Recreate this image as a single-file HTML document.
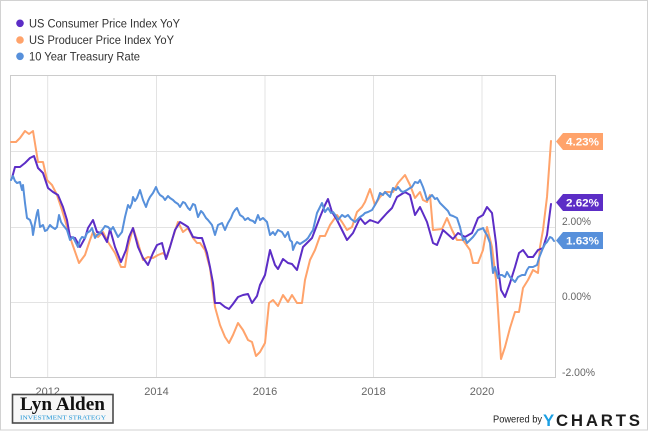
<!DOCTYPE html>
<html><head><meta charset="utf-8"><style>
html,body{margin:0;padding:0;background:#fff;}
svg{display:block;font-family:"Liberation Sans",sans-serif;}
</style></head><body>
<svg width="650" height="433" viewBox="0 0 650 433" xmlns="http://www.w3.org/2000/svg">
<rect x="0.5" y="0.5" width="647" height="429.5" fill="#fff" stroke="#d2d2d2" stroke-width="1"/>
<!-- legend -->
<circle cx="20" cy="23.3" r="3.8" fill="#5c2dc6"/>
<circle cx="20" cy="40" r="3.8" fill="#ffa36b"/>
<circle cx="20" cy="56.3" r="3.8" fill="#5790db"/>
<g fill="#333" font-size="12.2">
<text x="29" y="27.5" textLength="151" lengthAdjust="spacingAndGlyphs">US Consumer Price Index YoY</text>
<text x="29" y="44.2" textLength="145" lengthAdjust="spacingAndGlyphs">US Producer Price Index YoY</text>
<text x="29" y="60.7" textLength="111" lengthAdjust="spacingAndGlyphs">10 Year Treasury Rate</text>
</g>
<!-- grid -->
<g stroke="#e3e3e3" stroke-width="1">
<line x1="10.5" y1="151.5" x2="555.5" y2="151.5"/>
<line x1="10.5" y1="227.5" x2="555.5" y2="227.5"/>
<line x1="10.5" y1="302.5" x2="555.5" y2="302.5"/>
<line x1="47.7" y1="75.5" x2="47.7" y2="377.5"/>
<line x1="156.5" y1="75.5" x2="156.5" y2="377.5"/>
<line x1="265" y1="75.5" x2="265" y2="377.5"/>
<line x1="373.5" y1="75.5" x2="373.5" y2="377.5"/>
<line x1="482" y1="75.5" x2="482" y2="377.5"/>
</g>
<rect x="10.5" y="75.5" width="545" height="302" fill="none" stroke="#cccccc" stroke-width="1"/>
<!-- y labels -->
<g fill="#666" font-size="10.8">
<text x="562" y="225" textLength="29" lengthAdjust="spacingAndGlyphs">2.00%</text>
<text x="562" y="300" textLength="29" lengthAdjust="spacingAndGlyphs">0.00%</text>
<text x="562" y="376" textLength="33" lengthAdjust="spacingAndGlyphs">-2.00%</text>
</g>
<!-- x labels -->
<g fill="#666" font-size="11" text-anchor="middle">
<text x="47.7" y="395">2012</text>
<text x="156.5" y="395">2014</text>
<text x="265" y="395">2016</text>
<text x="373.5" y="395">2018</text>
<text x="482" y="395">2020</text>
</g>
<!-- series -->
<g fill="none" stroke-width="2" stroke-linejoin="round" stroke-linecap="round">
<polyline stroke="#ffa36b" points="11,142 16,142 20,138 25,131 29,134 33,131 38,162 43,162 47,180 52,185 57,195 62,210 67,227 72,243 79,263 85,255 90,240 93,232 98,237 103,232 108,242 115,253 121,267 125,267 128,247 133,228 138,243 143,260 148,257 153,258 158,255 163,253 167,257 172,240 178,222 183,232 188,228 193,238 197,243 200,243 205,250 210,268 215,307 220,325 225,337 229,343 233,335 238,323 243,330 248,340 252,342 256,356 260,352 265,343 269,303 273,300 278,306 283,295 288,302 292,295 297,303 302,303 305,280 310,260 315,250 320,236 325,236 330,225 337,215 342,222 347,230 352,227 357,212 362,207 365,202 370,189 375,205 380,197 385,192 387,192 393,192 398,183 405,175 410,185 415,198 420,192 423,200 427,202 430,195 433,230 442,229 447,218 452,230 457,240 463,240 470,250 473,263 478,263 483,250 487,227 492,247 496,280 498,310 501,359 505,347 510,328 515,312 519,312 523,288 528,280 533,270 538,273 540,247 543,230 547,197 551,141"/>
<polyline stroke="#5c2dc6" points="12,178 15,167 20,167 25,163 30,158 34,156 38,168 43,173 48,188 53,192 58,195 63,207 67,220 70,237 75,238 80,247 85,238 88,228 93,220 97,232 102,233 107,242 110,229 115,247 121,262 126,250 129,237 133,228 138,247 143,258 148,265 153,253 157,245 162,243 166,259 170,247 175,230 180,222 185,225 188,227 193,237 198,238 202,238 207,253 210,267 213,283 215,303 220,303 225,307 229,309 233,304 238,297 243,295 248,294 252,303 257,296 260,285 265,275 270,250 275,265 278,269 283,259 288,263 292,264 297,270 303,247 312,238 320,217 325,205 328,199 332,212 337,220 342,230 347,240 353,233 360,218 365,224 370,220 378,223 387,213 392,208 397,197 405,192 410,195 415,215 420,207 427,222 433,243 437,245 443,230 453,239 458,233 465,237 472,233 478,218 483,215 487,207 492,213 496,243 498,267 501,290 505,297 510,283 515,267 519,253 523,250 528,257 533,257 538,250 543,248 547,235 551,204"/>
<polyline stroke="#5790db" points="11,180 13,176 15,181 17,183 20,182 22,190 23,185 25,203 27,218 30,220 32,226 33,235 35,223 37,213 38,210 40,227 43,225 45,231 47,230 50,225 52,227 55,229 57,227 59,215 61,222 63,225 67,230 70,240 73,237 76,243 78,247 80,240 82,237 85,238 87,233 90,231 92,228 95,238 97,235 100,233 103,229 105,226 108,227 111,230 113,227 116,233 118,237 122,232 125,217 128,205 130,208 132,203 133,197 135,201 137,198 140,190 143,200 146,207 148,201 150,197 153,193 156,187 158,192 160,195 163,197 165,200 168,196 170,198 173,200 175,202 178,204 180,207 183,202 185,203 188,208 190,210 193,204 195,205 198,217 201,211 203,213 206,218 208,220 212,225 215,235 218,225 222,223 225,230 228,223 231,218 233,213 235,210 237,208 240,215 243,217 245,220 248,218 250,220 253,221 255,223 258,215 260,220 263,218 267,222 270,235 273,232 275,235 278,230 282,232 285,237 288,232 290,240 292,242 293,250 295,245 297,242 300,244 303,242 306,240 308,238 311,233 313,230 317,213 320,207 322,203 325,212 328,208 331,213 333,212 336,216 338,220 342,215 345,217 348,215 351,219 355,222 358,219 360,217 363,215 365,213 368,212 372,210 375,205 378,199 380,193 383,195 385,192 388,195 390,197 393,188 396,190 398,187 401,191 403,192 407,190 410,188 412,187 415,182 418,183 420,180 423,187 425,193 427,200 430,197 432,195 435,199 437,198 440,203 442,205 445,208 448,211 450,215 453,216 457,218 460,227 463,240 465,238 467,243 470,240 473,237 476,233 478,230 481,229 483,228 485,232 487,235 490,243 493,273 495,267 498,278 500,275 502,275 505,277 507,272 510,277 512,279 515,282 518,277 522,275 525,275 527,270 529,267 533,267 535,266 537,265 539,258 541,253 543,248 545,244 547,242 550,237 552,238 554,241"/>
</g>
<!-- value tags -->
<polygon points="556,141.5 563,133 603,133 603,150 563,150" fill="#ffa36b"/>
<polygon points="556,202.5 563,194 603,194 603,211 563,211" fill="#5c2dc6"/>
<polygon points="556,240.5 563,232 603,232 603,249 563,249" fill="#5790db"/>
<g fill="#fff" font-size="11" font-weight="bold">
<text x="566" y="145.5" textLength="33" lengthAdjust="spacingAndGlyphs">4.23%</text>
<text x="566" y="206.5" textLength="33" lengthAdjust="spacingAndGlyphs">2.62%</text>
<text x="566" y="244.5" textLength="33" lengthAdjust="spacingAndGlyphs">1.63%</text>
</g>
<!-- Lyn Alden logo -->
<rect x="12.5" y="394.5" width="100.5" height="28.5" fill="#f7f7f7" stroke="#4a4a4a" stroke-width="1.6"/>
<text x="20" y="410" font-family="Liberation Serif, serif" font-weight="bold" font-size="18.5" fill="#111" textLength="85" lengthAdjust="spacingAndGlyphs">Lyn Alden</text>
<text x="20" y="419.5" font-family="Liberation Serif, serif" font-size="6.2" fill="#1f95d6" textLength="86" lengthAdjust="spacingAndGlyphs">INVESTMENT STRATEGY</text>
<!-- Powered by YCHARTS -->
<text x="493" y="422.5" font-size="10.5" fill="#222" textLength="49" lengthAdjust="spacingAndGlyphs">Powered by</text>
<text x="543" y="426" font-size="16.8" font-weight="bold" fill="#1b9fe3">Y</text>
<text x="556" y="426" font-size="16.8" font-weight="bold" fill="#1c1c1c" textLength="84" lengthAdjust="spacing">CHARTS</text>
</svg>
</body></html>
